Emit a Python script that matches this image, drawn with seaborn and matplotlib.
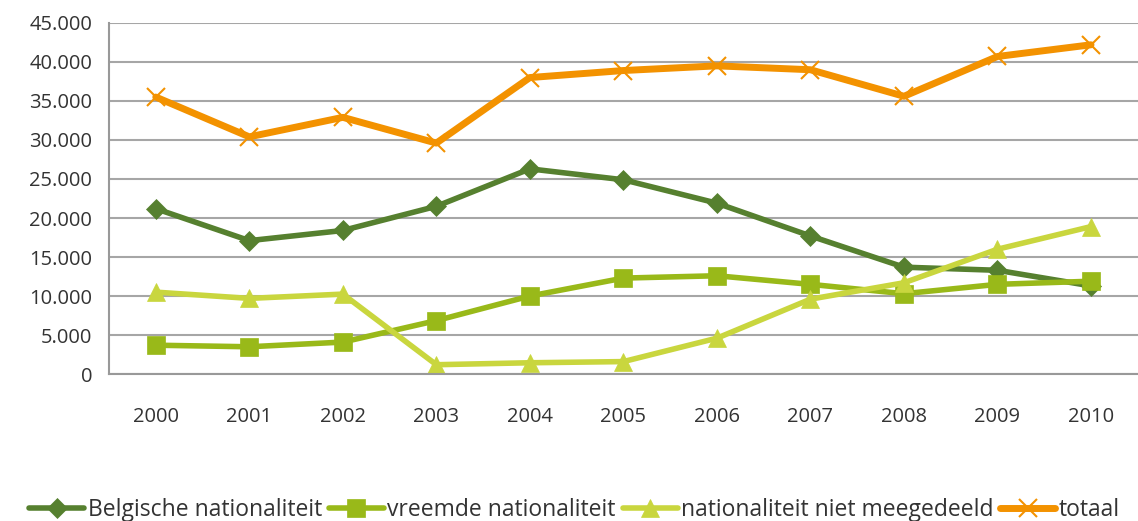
import matplotlib
matplotlib.use("Agg")
import matplotlib.pyplot as plt
import seaborn as sns
import numpy as np
import pandas as pd
from matplotlib.ticker import FuncFormatter, FixedLocator

years = ["2000", "2001", "2002", "2003", "2004", "2005", "2006", "2007", "2008", "2009", "2010"]
belgische = [21200, 17100, 18400, 21500, 26300, 24900, 21900, 17700, 13700, 13300, 11300]
vreemde = [3700, 3500, 4100, 6850, 10000, 12300, 12600, 11500, 10300, 11500, 11900]
niet_meegedeeld = [10500, 9700, 10250, 1200, 1450, 1600, 4600, 9600, 11700, 16000, 18900]
totaal = [35500, 30400, 32900, 29600, 38000, 38900, 39500, 39000, 35600, 40700, 42200]
series_names = ["Belgische nationaliteit", "vreemde nationaliteit", "nationaliteit niet meegedeeld", "totaal"]

sns.set_theme(style="white")
plt.rcParams['font.family'] = ['Open Sans', 'DejaVu Sans']

fig = plt.figure(figsize=(11.38, 5.21), dpi=100)
ax = fig.add_axes([0.0958, 0.282, 0.904, 0.674])

xs = np.arange(len(years))
styles = [
    (belgische, "#56802F", "D", 10, 4.0),
    (vreemde, "#99B919", "s", 13, 4.0),
    (niet_meegedeeld, "#C9D63E", "^", 13, 4.0),
    (totaal, "#F39200", "x", 13, 5.0),
]
for (vals, col, mk, ms, lw), name in zip(styles, series_names):
    sns.lineplot(x=xs, y=vals, ax=ax, color=col, marker=mk, markersize=ms,
                 linewidth=lw, label=name, markeredgecolor=col,
                 markeredgewidth=1.5 if mk == "x" else 0.5)

ax.set_xlim(-0.5, len(years) - 0.5)
ax.set_ylim(0, 45000)
ax.set_yticks(np.arange(0, 45001, 5000))
ax.yaxis.set_major_formatter(FuncFormatter(lambda v, p: f"{int(v):,}".replace(",", ".")))
ax.set_xticks(xs)
ax.set_xticklabels(years)
ax.xaxis.set_minor_locator(FixedLocator(np.arange(-0.5, len(years), 1.0)))
ax.tick_params(axis="x", which="major", length=0, pad=24, labelsize=14.5, colors="#333333")
ax.tick_params(axis="x", which="minor", length=8, width=1.5, color="#999999", direction="out")
ax.tick_params(axis="y", which="major", length=8, width=1.5, color="#999999", labelsize=14.5,
               labelcolor="#333333", direction="out", pad=4)
ax.grid(axis="y", color="#A6A6A6", linewidth=1.5)
ax.set_axisbelow(True)
for s in ["top", "right"]:
    ax.spines[s].set_visible(False)
for s in ["left", "bottom"]:
    ax.spines[s].set_color("#999999")
    ax.spines[s].set_linewidth(1.5)
ax.set_xlabel("")
ax.set_ylabel("")

handles, labels = ax.get_legend_handles_labels()
ax.legend_.remove()
fig.legend(handles, labels, loc="center", bbox_to_anchor=(0.505, 0.022), ncol=4, frameon=False,
           fontsize=16.5, handlelength=2.4, columnspacing=0.3, handletextpad=0.15,
           labelcolor="#333333", borderaxespad=0)

fig.savefig("out.png", dpi=100)
